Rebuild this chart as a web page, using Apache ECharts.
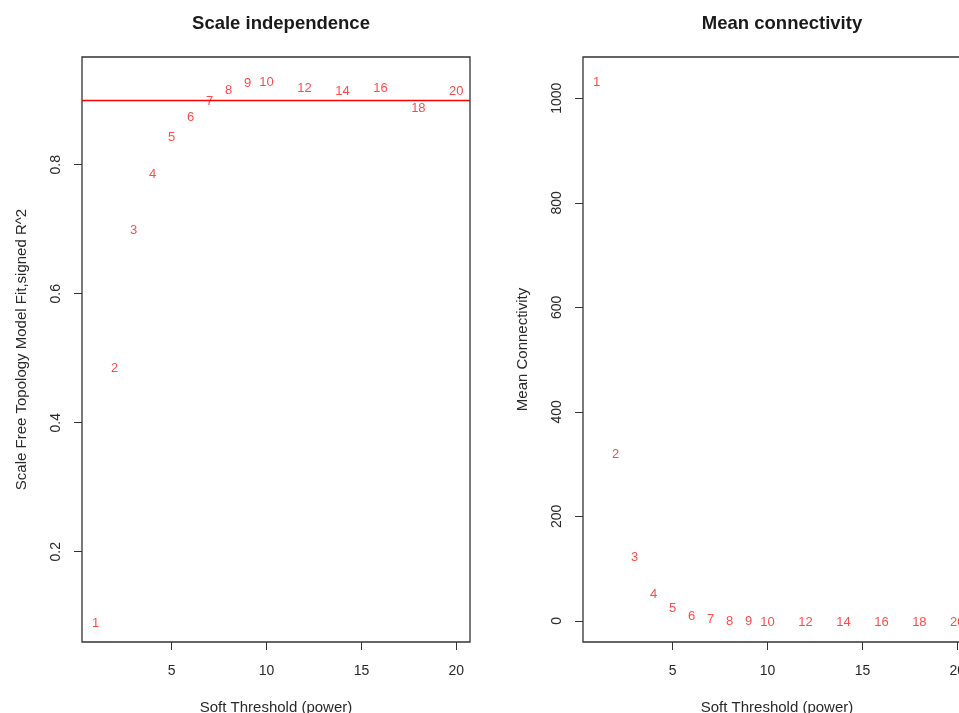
<!DOCTYPE html>
<html>
<head>
<meta charset="utf-8">
<script src="https://cdn.jsdelivr.net/npm/echarts@6/dist/echarts.min.js"></script>
<style>
html,body{margin:0;padding:0;background:#fff;}
#chart{width:959px;height:713px;}
</style>
</head>
<body>
<div id="chart"></div>
<script>
// Soft-threshold powers
var powers = [1, 2, 3, 4, 5, 6, 7, 8, 9, 10, 12, 14, 16, 18, 20];
// Scale free topology model fit, signed R^2
var sftR2 = [0.092, 0.488, 0.701, 0.788, 0.846, 0.877, 0.901, 0.918, 0.929, 0.931, 0.922, 0.916, 0.922, 0.891, 0.917];
// Mean connectivity
var meanK = [1035, 323, 125, 54, 27, 13, 6.5, 3.5, 2.0, 1.3, 0.6, 0.4, 0.3, 0.2, 0.1];
// Tick values
var xTicks = [5, 10, 15, 20];
var yTicksLeft = [0.2, 0.4, 0.6, 0.8];
var yTicksRight = [0, 200, 400, 600, 800, 1000];
var cutHeight = 0.90;

var FONT = '"Liberation Sans", Arial, sans-serif';
var txt = '#2a2a2a';

function pts(ys) { return powers.map(function (p, i) { return [p, ys[i]]; }); }
function plain(v) { return String(v); }

function xAxisDef(idx) {
  return {
    gridIndex: idx, type: 'value', min: 0.28, max: 20.72,
    name: 'Soft Threshold (power)', nameLocation: 'middle', nameGap: 58,
    nameTextStyle: { color: txt, fontSize: 15, fontFamily: FONT },
    axisLine: { show: false, onZero: false },
    axisTick: { show: true, inside: false, length: 8, customValues: xTicks, lineStyle: { color: '#333' } },
    axisLabel: { customValues: xTicks, margin: 22, color: txt, fontSize: 14, fontFamily: FONT, formatter: plain },
    splitLine: { show: false }
  };
}
function yAxisDef(idx, min, max, ticks, name) {
  return {
    gridIndex: idx, type: 'value', min: min, max: max,
    name: name, nameLocation: 'middle', nameGap: 53,
    nameTextStyle: { color: txt, fontSize: 15, fontFamily: FONT },
    axisLine: { show: false, onZero: false },
    axisTick: { show: true, inside: false, length: 8, customValues: ticks, lineStyle: { color: '#333' } },
    axisLabel: { customValues: ticks, rotate: 90, margin: 19, color: txt, fontSize: 14, fontFamily: FONT, formatter: plain },
    splitLine: { show: false }
  };
}
var labelStyle = {
  show: true, position: 'inside', offset: [0, 2],
  formatter: function (p) { return String(p.value[0]); },
  color: '#ff1a1a', fontSize: 13, fontFamily: FONT
};

var chart = echarts.init(document.getElementById('chart'), null, { renderer: 'canvas' });
chart.setOption({
  backgroundColor: '#fff',
  animation: false,
  title: [
    { text: 'Scale independence', left: 276, top: 9, textAlign: 'center',
      textStyle: { fontSize: 18.5, fontWeight: 'bold', color: '#1a1a1a', fontFamily: FONT } },
    { text: 'Mean connectivity', left: 777, top: 9, textAlign: 'center',
      textStyle: { fontSize: 18.5, fontWeight: 'bold', color: '#1a1a1a', fontFamily: FONT } }
  ],
  grid: [
    { left: 82, top: 57, width: 388, height: 585, show: true, borderColor: '#333', borderWidth: 1.3,
      backgroundColor: 'transparent', outerBoundsMode: 'none', containLabel: false },
    { left: 583, top: 57, width: 388, height: 585, show: true, borderColor: '#333', borderWidth: 1.3,
      backgroundColor: 'transparent', outerBoundsMode: 'none', containLabel: false }
  ],
  xAxis: [xAxisDef(0), xAxisDef(1)],
  yAxis: [
    yAxisDef(0, 0.060, 0.967, yTicksLeft, 'Scale Free Topology Model Fit,signed R^2'),
    yAxisDef(1, -40.6, 1079, yTicksRight, 'Mean Connectivity')
  ],
  series: [
    {
      type: 'scatter', xAxisIndex: 0, yAxisIndex: 0, data: pts(sftR2),
      symbolSize: 0, label: labelStyle, silent: true,
      markLine: {
        silent: true, symbol: 'none', label: { show: false },
        lineStyle: { color: '#ff0000', width: 1.3, type: 'solid' },
        data: [{ yAxis: cutHeight }]
      }
    },
    {
      type: 'scatter', xAxisIndex: 1, yAxisIndex: 1, data: pts(meanK),
      symbolSize: 0, label: labelStyle, silent: true
    }
  ]
});
</script>
</body>
</html>
